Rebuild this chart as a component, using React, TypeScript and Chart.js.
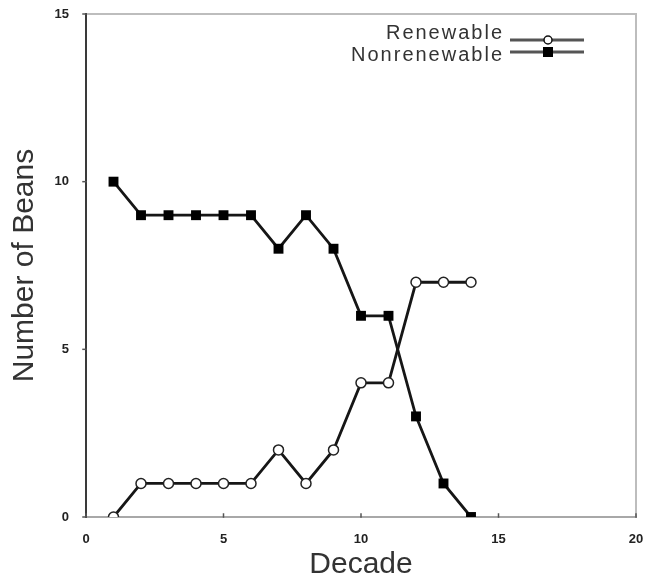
import React, { useEffect, useRef } from "react";
import { Chart, registerables } from "chart.js";

Chart.register(...registerables);

const decades = [1, 2, 3, 4, 5, 6, 7, 8, 9, 10, 11, 12, 13, 14];
const renewable = [0, 1, 1, 1, 1, 1, 2, 1, 2, 4, 4, 7, 7, 7];
const nonrenewable = [10, 9, 9, 9, 9, 9, 8, 9, 8, 6, 6, 3, 1, 0];
const xTicks = [0, 5, 10, 15, 20];
const yTicks = [0, 5, 10, 15];
const legendLabels = ["Renewable", "Nonrenewable"];

const FONT = "'Liberation Sans', Arial, sans-serif";

const framePlugin = {
  id: "frame",
  beforeDatasetsDraw(chart: any) {
    const { ctx, chartArea } = chart;
    const { left, right, top, bottom } = chartArea;
    const xs = chart.scales.x;
    const ys = chart.scales.y;
    ctx.save();
    ctx.lineCap = "square";
    ctx.strokeStyle = "#bdbdbd";
    ctx.lineWidth = 2;
    ctx.beginPath();
    ctx.moveTo(left, top);
    ctx.lineTo(right, top);
    ctx.lineTo(right, bottom);
    ctx.stroke();
    ctx.strokeStyle = "#a8a8a8";
    ctx.beginPath();
    ctx.moveTo(left, bottom);
    ctx.lineTo(right, bottom);
    ctx.stroke();
    ctx.strokeStyle = "#3a3a3a";
    ctx.beginPath();
    ctx.moveTo(left, top);
    ctx.lineTo(left, bottom);
    ctx.stroke();
    ctx.lineWidth = 1.5;
    ctx.strokeStyle = "#555";
    xTicks.forEach((t) => {
      const px = xs.getPixelForValue(t);
      ctx.beginPath();
      ctx.moveTo(px, bottom);
      ctx.lineTo(px, bottom - 3);
      ctx.stroke();
    });
    yTicks.forEach((t) => {
      const py = ys.getPixelForValue(t);
      ctx.beginPath();
      ctx.moveTo(left, py);
      ctx.lineTo(left - 3, py);
      ctx.stroke();
    });
    ctx.restore();
  },
};

const legendPlugin = {
  id: "customLegend",
  afterDraw(chart: any) {
    const { ctx } = chart;
    ctx.save();
    ctx.font = `20px ${FONT}`;
    (ctx as any).letterSpacing = "2px";
    ctx.fillStyle = "#333";
    ctx.textAlign = "right";
    ctx.textBaseline = "middle";
    ctx.fillText(legendLabels[0], 504, 33);
    ctx.fillText(legendLabels[1], 504, 55);
    (ctx as any).letterSpacing = "0px";
    ctx.strokeStyle = "#555";
    ctx.lineWidth = 3;
    [40, 52].forEach((y) => {
      ctx.beginPath();
      ctx.moveTo(510, y);
      ctx.lineTo(584, y);
      ctx.stroke();
    });
    ctx.lineWidth = 1.5;
    ctx.strokeStyle = "#111";
    ctx.fillStyle = "#fff";
    ctx.beginPath();
    ctx.arc(548, 40, 4, 0, Math.PI * 2);
    ctx.fill();
    ctx.stroke();
    ctx.fillStyle = "#000";
    ctx.fillRect(543, 47, 10, 10);
    ctx.restore();
  },
};

export default function App() {
  const canvasRef = useRef<HTMLCanvasElement | null>(null);

  useEffect(() => {
    if (!canvasRef.current) return;
    const chart = new Chart(canvasRef.current, {
      type: "line",
      data: {
        datasets: [
          {
            label: legendLabels[0],
            data: decades.map((d, i) => ({ x: d, y: renewable[i] })),
            borderColor: "#161616",
            borderWidth: 2.8,
            pointStyle: "circle",
            pointRadius: 5,
            pointBackgroundColor: "#ffffff",
            pointBorderColor: "#222",
            pointBorderWidth: 1.5,
            tension: 0,
          },
          {
            label: legendLabels[1],
            data: decades.map((d, i) => ({ x: d, y: nonrenewable[i] })),
            borderColor: "#161616",
            borderWidth: 2.8,
            pointStyle: "rect",
            pointRadius: 7,
            pointBackgroundColor: "#000",
            pointBorderColor: "#000",
            pointBorderWidth: 0,
            tension: 0,
          },
        ],
      },
      options: {
        animation: false,
        responsive: false,
        maintainAspectRatio: false,
        layout: { padding: { top: 14, right: 10, left: 0, bottom: 0 } },
        plugins: {
          legend: { display: false },
          tooltip: { enabled: false },
        },
        scales: {
          x: {
            type: "linear",
            min: 0,
            max: 20,
            afterBuildTicks: (s: any) => {
              s.ticks = xTicks.map((v) => ({ value: v }));
            },
            ticks: {
              font: { family: FONT, size: 13, weight: "bold" },
              color: "#222",
              padding: 7,
              maxRotation: 0,
            },
            grid: { display: false },
            border: { display: false },
            title: {
              display: true,
              text: "Decade",
              font: { family: FONT, size: 30, lineHeight: 1.1 },
              color: "#333",
              padding: { top: 0, bottom: 1 },
            },
            afterFit: (s: any) => {
              s.height = 65;
              s.paddingLeft = 0;
              s.paddingRight = 0;
            },
          },
          y: {
            type: "linear",
            min: 0,
            max: 15,
            afterBuildTicks: (s: any) => {
              s.ticks = yTicks.map((v) => ({ value: v }));
            },
            ticks: {
              font: { family: FONT, size: 13, weight: "bold" },
              color: "#222",
              padding: 9,
            },
            grid: { display: false },
            border: { display: false },
            title: {
              display: true,
              text: "Number of Beans",
              font: { family: FONT, size: 30, lineHeight: 1.2 },
              color: "#333",
              padding: { top: 7, bottom: 0 },
            },
            afterFit: (s: any) => {
              s.width = 86;
              s.paddingTop = 0;
              s.paddingBottom = 0;
            },
          },
        },
      },
      plugins: [framePlugin, legendPlugin],
    });
    return () => chart.destroy();
  }, []);

  return (
    <div style={{ position: "absolute", left: 0, top: 0, width: 646, height: 582, background: "#fff" }}>
      <canvas ref={canvasRef} width={646} height={582} />
    </div>
  );
}
